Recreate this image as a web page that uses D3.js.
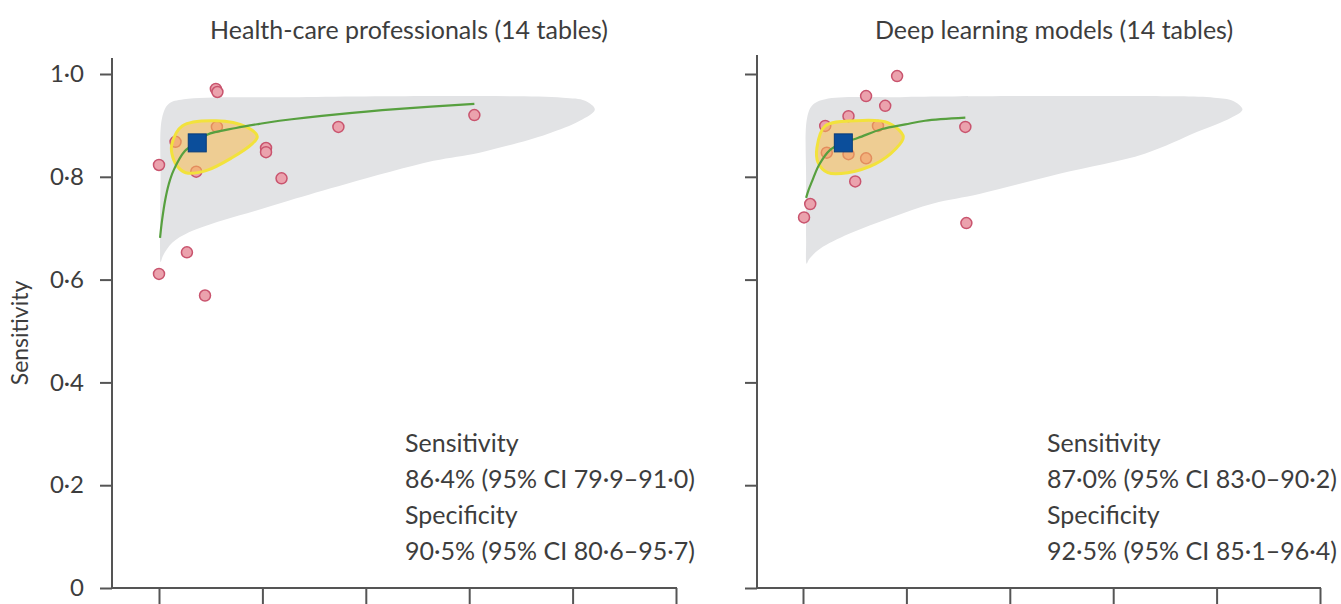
<!DOCTYPE html>
<html><head><meta charset="utf-8">
<script src="https://cdn.jsdelivr.net/npm/d3@7"></script>
<style>html,body{margin:0;padding:0;background:#fff;}svg{display:block;}</style>
</head><body>
<svg id="chart" width="1341" height="604"></svg>
<script>
// ---------- data ----------
const panelTitles = ["Health-care professionals (14 tables)", "Deep learning models (14 tables)"];
const xTicks = [0, 0.2, 0.4, 0.6, 0.8, 1.0];
const yTicks = [0, 0.2, 0.4, 0.6, 0.8, 1.0];
const yTickLabels = ["0", "0·2", "0·4", "0·6", "0·8", "1·0"];
const yAxisTitle = "Sensitivity";

// study points [1 - specificity, sensitivity]
const hcpStudies = [[0.110,0.971],[0.113,0.965],[0.112,0.897],[0.032,0.868],[0.072,0.810],[0.000,0.823],[0.207,0.856],[0.207,0.848],[0.237,0.797],[0.054,0.653],[0.000,0.611],[0.089,0.569],[0.347,0.897],[0.610,0.920]];
const dlStudies = [[0.182,0.996],[0.122,0.957],[0.159,0.938],[0.088,0.918],[0.043,0.899],[0.145,0.899],[0.314,0.897],[0.046,0.847],[0.088,0.844],[0.122,0.836],[0.101,0.791],[0.014,0.747],[0.002,0.721],[0.316,0.710]];

// summary operating points
const hcpSummary = [0.074, 0.866];
const dlSummary = [0.078, 0.866];

// SROC curves
const hcpCurve = [[0.002,0.681],[0.006,0.716],[0.012,0.755],[0.019,0.786],[0.028,0.812],[0.050,0.850],[0.074,0.868],[0.093,0.882],[0.149,0.895],[0.194,0.903],[0.233,0.909],[0.349,0.922],[0.465,0.932],[0.610,0.942]];
const dlCurve = [[0.006,0.759],[0.011,0.775],[0.017,0.790],[0.031,0.823],[0.052,0.852],[0.078,0.866],[0.107,0.876],[0.153,0.893],[0.198,0.902],[0.236,0.909],[0.314,0.915]];

// 95% confidence regions
const hcpConfidence = [[0.025,0.864],[0.045,0.899],[0.110,0.909],[0.169,0.897],[0.190,0.878],[0.180,0.864],[0.141,0.837],[0.091,0.812],[0.052,0.808],[0.035,0.821],[0.025,0.845]];
const dlConfidence = [[0.027,0.857],[0.043,0.899],[0.101,0.909],[0.165,0.905],[0.194,0.878],[0.178,0.853],[0.140,0.825],[0.087,0.808],[0.048,0.808],[0.029,0.828]];

// 95% prediction regions
const hcpPrediction = [[0.006,0.915],[0.019,0.942],[0.048,0.951],[0.271,0.955],[0.620,0.957],[0.781,0.954],[0.824,0.948],[0.843,0.931],[0.814,0.909],[0.750,0.883],[0.620,0.847],[0.531,0.831],[0.362,0.786],[0.252,0.754],[0.187,0.734],[0.122,0.715],[0.058,0.692],[0.026,0.672],[0.008,0.647],[0.003,0.634],[0.002,0.660],[0.003,0.792]];
const dlPrediction = [[0.008,0.915],[0.019,0.940],[0.043,0.951],[0.188,0.955],[0.634,0.957],[0.795,0.954],[0.831,0.948],[0.850,0.931],[0.828,0.915],[0.764,0.888],[0.661,0.845],[0.496,0.806],[0.343,0.767],[0.252,0.748],[0.171,0.721],[0.089,0.689],[0.033,0.660],[0.012,0.640],[0.007,0.631],[0.006,0.676],[0.006,0.792]];

const hcpText = ["Sensitivity", "86·4% (95% CI 79·9–91·0)", "Specificity", "90·5% (95% CI 80·6–95·7)"];
const dlText = ["Sensitivity", "87·0% (95% CI 83·0–90·2)", "Specificity", "92·5% (95% CI 85·1–96·4)"];

// ---------- layout / style ----------
const FONT = "Lato, 'Open Sans', sans-serif";
const TEXT = "#3d3d3d";
const AXIS = "#555";
const panels = [
  {title: panelTitles[0], titleX: 409, axisX: 112, axisTop: 58, x0: 159, x1: 676, studies: hcpStudies, summary: hcpSummary, curve: hcpCurve, conf: hcpConfidence, pred: hcpPrediction, text: hcpText, textX: 405, labels: true},
  {title: panelTitles[1], titleX: 1054, axisX: 757, axisTop: 55, x0: 803, x1: 1320, studies: dlStudies, summary: dlSummary, curve: dlCurve, conf: dlConfidence, pred: dlPrediction, text: dlText, textX: 1047, labels: false}
];

const svg = d3.select("#chart");
const y = d3.scaleLinear().domain([0, 1]).range([588, 74]);

panels.forEach((p, i) => {
  const x = d3.scaleLinear().domain([0, 1]).range([p.x0, p.x1]);
  const g = svg.append("g");

  // prediction region
  g.append("path")
    .attr("d", d3.line().x(d => x(d[0])).y(d => y(d[1])).curve(d3.curveCatmullRomClosed.alpha(0.5))(p.pred))
    .attr("fill", "#e2e3e5");

  // study points
  g.selectAll("circle.study").data(p.studies).join("circle")
    .attr("class", "study")
    .attr("cx", d => x(d[0])).attr("cy", d => y(d[1])).attr("r", 5.5)
    .attr("fill", "#eba2ad").attr("stroke", "#c9546e").attr("stroke-width", 1.5);

  // confidence region
  g.append("path")
    .attr("d", d3.line().x(d => x(d[0])).y(d => y(d[1])).curve(d3.curveCatmullRomClosed.alpha(0.5))(p.conf))
    .attr("fill", "rgba(248,188,80,0.55)")
    .attr("stroke", "#f2e23c").attr("stroke-width", 3);

  // SROC curve
  g.append("path")
    .attr("d", d3.line().x(d => x(d[0])).y(d => y(d[1])).curve(d3.curveCatmullRom.alpha(0.5))(p.curve))
    .attr("fill", "none").attr("stroke", "#57a03f").attr("stroke-width", 2.2);

  // summary point
  const s = 18;
  g.append("rect")
    .attr("x", x(p.summary[0]) - s / 2).attr("y", y(p.summary[1]) - s / 2)
    .attr("width", s).attr("height", s)
    .attr("fill", "#0b4e9b").attr("stroke", "#083c78").attr("stroke-width", 1);

  // y axis
  const yAxis = d3.axisLeft(y).tickValues(yTicks).tickSize(12).tickPadding(16)
    .tickFormat((d, k) => p.labels ? yTickLabels[k] : "");
  const ya = g.append("g").attr("transform", `translate(${p.axisX},0)`).call(yAxis);
  ya.select(".domain").remove();
  ya.selectAll(".tick line").attr("stroke", AXIS).attr("stroke-width", 2);
  ya.selectAll(".tick text").attr("fill", TEXT).style("font-family", FONT).style("font-size", "24px");
  g.append("line").attr("x1", p.axisX).attr("x2", p.axisX).attr("y1", p.axisTop).attr("y2", y(0) + 1)
    .attr("stroke", AXIS).attr("stroke-width", 2);

  // x axis
  const xAxis = d3.axisBottom(x).tickValues(xTicks).tickSize(16).tickFormat("");
  const xa = g.append("g").attr("transform", `translate(0,${y(0)})`).call(xAxis);
  xa.select(".domain").remove();
  xa.selectAll(".tick line").attr("stroke", AXIS).attr("stroke-width", 2);
  g.append("line").attr("x1", p.axisX).attr("x2", p.x1 + 1).attr("y1", y(0)).attr("y2", y(0))
    .attr("stroke", AXIS).attr("stroke-width", 2);

  // title
  g.append("text").attr("x", p.titleX).attr("y", 39).attr("text-anchor", "middle")
    .attr("fill", TEXT).style("font-family", FONT).style("font-size", "25px").text(p.title);

  // annotation
  p.text.forEach((t, k) => {
    g.append("text").attr("x", p.textX).attr("y", 452 + k * 36)
      .attr("fill", TEXT).style("font-family", FONT).style("font-size", "25px").text(t);
  });
});

// y axis title
svg.append("text").attr("transform", "translate(28,333) rotate(-90)").attr("text-anchor", "middle")
  .attr("fill", TEXT).style("font-family", FONT).style("font-size", "23px").text(yAxisTitle);
</script>
</body></html>
